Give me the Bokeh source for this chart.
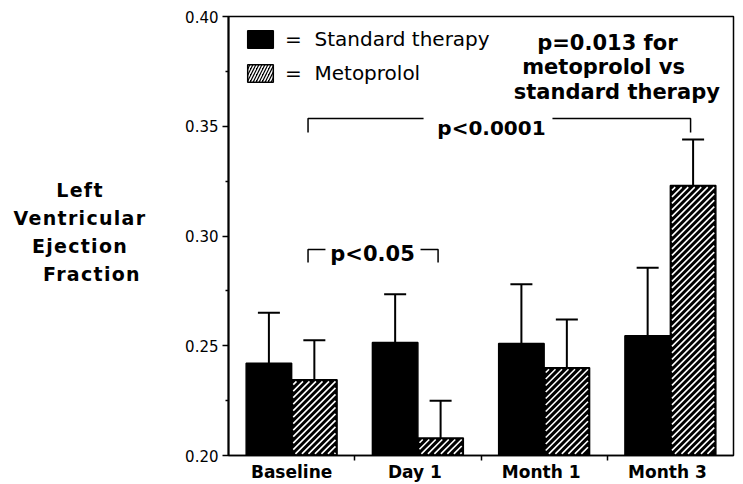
from bokeh.plotting import figure
from bokeh.layouts import row
from bokeh.models import (Range1d, FixedTicker, Whisker, TeeHead, ColumnDataSource,
                          Legend, LegendItem, Label, NumeralTickFormatter, Div)
from bokeh.embed import file_html
from bokeh.resources import INLINE

# ---- data ----
categories = ["Baseline", "Day  1", "Month  1", "Month  3"]
standard = [0.242, 0.2515, 0.251, 0.2545]
standard_sd = [0.023, 0.022, 0.027, 0.031]
metoprolol = [0.2345, 0.208, 0.240, 0.323]
metoprolol_sd = [0.018, 0.017, 0.022, 0.021]
y_ticks = [0.20, 0.25, 0.30, 0.35, 0.40]
y_minor = [0.225, 0.275, 0.325, 0.375]

centers = [i + 0.5 for i in range(len(categories))]
offset = 0.18
bar_w = 0.36
x_std = [c - offset for c in centers]
x_met = [c + offset for c in centers]
Y0 = 0.2

src_std = ColumnDataSource(dict(x=x_std, top=standard,
                                upper=[v + s for v, s in zip(standard, standard_sd)]))
src_met = ColumnDataSource(dict(x=x_met, top=metoprolol,
                                upper=[v + s for v, s in zip(metoprolol, metoprolol_sd)]))

FONT = "DejaVu Sans"

p = figure(width=577, height=484, x_range=Range1d(0, 4), y_range=Range1d(Y0, 0.4),
           output_backend="svg", toolbar_location=None,
           min_border_left=68, min_border_right=4, min_border_top=16, min_border_bottom=29,
           margin=0)
p.grid.visible = False
p.outline_line_color = "black"
p.outline_line_width = 1.5
p.background_fill_color = "white"
p.border_fill_color = "white"

r_std = p.vbar(x="x", top="top", bottom=Y0, width=bar_w, source=src_std,
               fill_color="black", line_color="black", line_width=1.5)
r_met = p.vbar(x="x", top="top", bottom=Y0, width=bar_w, source=src_met,
               fill_color="black", line_color="black", line_width=1.5)

# white diagonal hatching ("/") inside the metoprolol bars, derived from the bar data
PX_X, PX_Y = 126.25, 2195.0   # pixels per data unit (frame 505 x 439 px)
STEP, INSET = 6.5, 1.6
hx, hy = [], []
for xc, top in zip(x_met, metoprolol):
    u0 = (xc - bar_w / 2) * PX_X + INSET
    u1 = (xc + bar_w / 2) * PX_X - INSET
    v0 = Y0 * PX_Y + INSET
    v1 = top * PX_Y - INSET
    c = u0 - v1 + STEP / 2
    while c < u1 - v0:
        va = max(v0, u0 - c)
        vb = min(v1, u1 - c)
        if vb - va > 0.5:
            hx.append([(va + c) / PX_X, (vb + c) / PX_X])
            hy.append([va / PX_Y, vb / PX_Y])
        c += STEP
p.multi_line(xs=hx, ys=hy, line_color="white", line_width=1.6)

# legend key for metoprolol: a zero-height bar at the base of the first metoprolol bar,
# carrying the hatched look for the legend swatch
r_met_key = p.vbar(x=x_met[:1], top=[Y0], bottom=Y0, width=bar_w,
                   fill_color="black", line_color="black", line_width=1.5,
                   hatch_pattern="right_diagonal_line", hatch_color="white",
                   hatch_scale=6, hatch_weight=1.5)

for src in (src_std, src_met):
    w = Whisker(source=src, base="x", lower="top", upper="upper", dimension="height",
                line_color="black", line_width=2,
                upper_head=TeeHead(size=22, line_width=2, line_color="black"),
                lower_head=None)
    p.add_layout(w)

# x axis: labels at category centres, ticks at the boundaries
xa = p.xaxis[0]
xa.ticker = FixedTicker(ticks=centers, minor_ticks=[1, 2, 3])
xa.major_label_overrides = {c: cat for c, cat in zip(centers, categories)}
xa.major_tick_out = 0
xa.major_tick_in = 0
xa.minor_tick_out = 5
xa.minor_tick_in = 0
xa.minor_tick_line_width = 1.5
xa.axis_line_width = 1.5
xa.axis_line_color = "black"
xa.major_label_text_font = FONT
xa.major_label_text_font_style = "bold"
xa.major_label_text_font_size = "17px"
xa.major_label_text_color = "black"
xa.major_label_standoff = 1

ya = p.yaxis[0]
ya.ticker = FixedTicker(ticks=y_ticks, minor_ticks=y_minor)
ya.formatter = NumeralTickFormatter(format="0.00")
ya.major_tick_out = 6
ya.major_tick_in = 0
ya.minor_tick_out = 3
ya.minor_tick_in = 0
ya.major_tick_line_width = 1.5
ya.minor_tick_line_width = 1.5
ya.axis_line_width = 2
ya.axis_line_color = "black"
ya.major_label_text_font = FONT
ya.major_label_text_font_size = "15px"
ya.major_label_text_color = "black"
ya.major_label_standoff = 4

legend = Legend(items=[LegendItem(label="=  Standard therapy", renderers=[r_std]),
                       LegendItem(label="=  Metoprolol", renderers=[r_met_key])],
                location=(16, 370), padding=0, margin=0, spacing=10,
                glyph_width=32, glyph_height=22, label_standoff=9, label_height=22,
                label_text_font=FONT, label_text_font_size="20px",
                label_text_color="black",
                border_line_color=None, background_fill_alpha=0)
p.add_layout(legend)

# significance brackets
lx = x_met[0] - 0.05
p.multi_line(xs=[[lx, lx, 1.545], [2.566, x_met[3] - 0.02, x_met[3] - 0.02],
                 [lx, lx, 0.768], [1.521, x_met[1] - 0.02, x_met[1] - 0.02]],
             ys=[[0.3471, 0.3535, 0.3535], [0.3535, 0.3535, 0.3471],
                 [0.2879, 0.2938, 0.2938], [0.2938, 0.2938, 0.2879]],
             line_color="black", line_width=1.5)


def lab(x, y, text, size="20px"):
    p.add_layout(Label(x=x, y=y, text=text, text_font=FONT, text_font_size=size,
                       text_font_style="bold", text_color="black",
                       text_align="center", text_baseline="alphabetic"))


lab(2.083, 0.3494, "p<0.0001")
lab(1.141, 0.2916, "p<0.05", size="21px")
lab(3.03, 0.388, "p=0.013  for", size="21px")
lab(3.00, 0.3768, "metoprolol  vs", size="21px")
lab(3.105, 0.3654, "standard  therapy", size="21px")

# y-axis title, horizontal, in four lines
title = Div(text=('<div style="width:160px; padding-top:176px; text-align:center; '
                  'font-family:\'DejaVu Sans\'; font-weight:bold; font-size:19px; '
                  'letter-spacing:1.3px; line-height:28px; color:black;">'
                  'Left<br>Ventricular<br>Ejection<br>'
                  '<span style="padding-left:24px">Fraction</span></div>'),
            width=160, height=484, margin=0)

layout = row(title, p, spacing=0)
open("out.html", "w").write(file_html(layout, INLINE))
